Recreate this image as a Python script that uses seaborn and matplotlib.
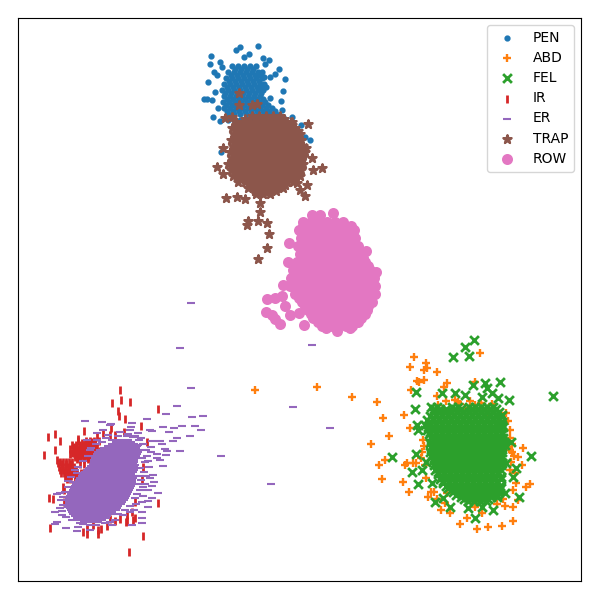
import matplotlib
matplotlib.use("Agg")
import matplotlib.pyplot as plt
import pandas as pd
import seaborn as sns

# all values (x, y in picture units)
labels = ["PEN", "ABD", "FEL", "IR", "ER", "TRAP", "ROW"]

pen_points = [(258,46),(240,47),(236,50),(211,56),(244,57),(249,54),(263,58),(269,60),(210,64),(220,62),(222,67),
    (265,64),(279,69),(285,79),(208,82),(214,72),(217,75),(275,74),(270,77),(264,77),(266,87),(283,91),(215,92),
    (204,99),(207,99),(212,100),(270,98),(281,101),(213,117),(218,108),(220,121),(282,110),(292,117),(283,117),
    (301,125),(305,137),(310,140),(221,152)]
pen_rows = {
    66: [232,238,244,250,256],
    69: [235,241,247,253],
    72: [228,234,240,246,252,258,262],
    75: [231,237,243,249,255,260],
    78: [226,232,238,244,250,256,262],
    81: [229,235,241,247,253,259],
    84: [224,230,236,242,248,254,260,264],
    87: [227,233,239,245,251,257,262],
    90: [222,228,234,240,246,252,258,263],
    93: [225,231,237,243,249,255,261],
    96: [224,230,236,242,248,254,260],
    99: [227,233,239,245,251,257,263],
    102: [223,229,235,241,247,253,259,265],
    105: [226,232,238,244,250,256,262,268],
    108: [224,230,236,242,248,254,260,266,272],
    111: [227,233,239,245,251,257,263,269,275],
    114: [228,234,240,246,252,258,264,270,276],
    120: [228,234,240,246,252,258,264,270,285],
}

abd_points = [(255,390),(317,387),(352,397),(377,402),(383,418),(404,415),(410,428),(389,436),(371,444),(385,460),
    (379,465),(382,479),(403,482),(409,492),(405,465),(407,463),(413,463),(414,357),(410,367),(426,363),(424,370),
    (427,368),(437,372),(417,381),(419,382),(424,380),(411,390),(447,383),(444,387),(475,382),(480,353),(437,396),
    (446,401),(458,402),(506,413),(523,448),(510,450),(518,457),(522,465),(515,473),(516,483),(530,484),(526,487),
    (513,490),(518,500),(513,507),(505,506),(513,521),(502,526),(488,527),(477,529),(460,524),(467,518),(482,513),
    (450,513),(441,510),(428,497),(431,492),(475,507),(447,493),(465,408),(475,405),(488,417),(450,417),(512,452),
    (514,456),(416,463),(421,458),(424,446),(460,404),(470,401),(481,403),(455,400),(438,405),(492,404),(508,421),
    (510,430),(512,444),(510,438),(423,440),(422,452),(425,465),(426,478),(434,492),(437,499),(445,503),(497,504),
    (503,499),(510,470),(511,462)]

fel_points = [(474,340),(465,347),(469,356),(453,357),(553,396),(500,382),(485,383),(473,385),(492,393),(487,388),
    (416,392),(442,393),(455,393),(465,395),(482,397),(509,400),(498,398),(415,409),(502,415),(417,425),(418,430),
    (503,427),(511,442),(531,456),(392,457),(416,454),(426,462),(412,472),(418,484),(422,470),(506,463),(516,468),
    (519,497),(493,510),(482,507),(475,518),(468,508),(450,507),(435,502),(443,498),(432,483),(513,477),(505,493)]
fel_rows = {
    407: [431,437,452,458,469,475,481,487,493],
    409: [434,440,446,455,461,472,478,484,490,496],
    412: [433,439,445,451,457,463,469,475,481,487,493,499],
    414: [436,442,448,454,460,466,472,478,484,490,496],
    416: [430,436,442,448,454,460,466,472,478,484,490,496,501],
    418: [433,439,445,451,457,463,469,475,481,487,493,499],
    420: [427,433,439,445,451,457,463,469,475,481,487,493,499],
    423: [430,436,442,448,454,460,466,472,478,484,490,496,501],
    425: [425,430,436,442,448,454,460,466,472,478,484,490,496,502],
    427: [428,433,439,445,451,457,463,469,475,481,487,493,499],
    430: [427,433,439,445,451,457,463,469,475,481,487,493,499],
    432: [430,436,442,448,454,460,466,472,478,484,490,496,502],
    434: [429,436,442,448,454,460,466,472,478,484,490,496,502],
    436: [432,439,445,451,457,463,469,475,481,487,493,499],
    438: [431,437,443,449,455,461,467,473,479,485,491,497,503],
    441: [434,440,446,452,458,464,470,476,482,488,494,500],
    443: [430,436,442,448,454,460,466,472,478,484,490,496,503],
    445: [433,439,445,451,457,463,469,475,481,487,493,499,505],
    447: [431,437,443,449,455,461,467,473,479,485,491,497,502],
    450: [434,440,446,452,458,464,470,476,482,488,494,500],
    452: [430,436,442,448,454,460,466,472,478,484,490,496,502],
    454: [433,439,445,451,457,463,469,475,481,487,493,499],
    456: [431,437,443,449,455,461,467,473,479,485,491,497,502],
    459: [434,440,446,452,458,464,470,476,482,488,494,500],
    461: [433,439,445,451,457,463,469,475,481,487,493,499],
    463: [436,442,448,454,460,466,472,478,484,490,496,502],
    465: [434,440,446,452,458,464,470,476,482,488,494,501],
    468: [437,443,449,455,461,467,473,479,485,491,497],
    470: [435,441,447,453,459,465,471,477,483,489,495,501],
    472: [438,444,450,456,462,468,474,480,486,492,498],
    474: [438,444,450,456,462,468,474,480,486,492,498],
    477: [441,447,453,459,465,471,477,483,489,495,501],
    479: [440,446,452,458,464,470,476,482,488,494,501],
    481: [443,449,455,461,467,473,479,485,491,497],
    483: [443,449,455,461,467,473,479,485,491,497],
    486: [446,452,458,464,470,476,482,488,494,500],
    488: [448,454,460,466,472,478,484,490,496,501],
    490: [451,457,463,469,475,481,487,493,499],
    492: [453,459,465,471,477,483,489,495,499],
    495: [456,462,468,474,480,486,492,497],
    497: [461,467,473,479,485,491,497],
    499: [464,470,476,482,488],
    501: [468,474,480,486],
}

ir_points = [(120,390),(121,400),(112,403),(130,402),(118,411),(119,416),(158,409),(125,419),(141,426),(84,431),
    (111,428),(48,437),(55,434),(60,441),(78,439),(55,450),(44,455),(70,454),(57,460),(58,463),(110,435),(115,435),
    (103,434),(124,432),(97,437),(92,442),(49,498),(53,499),(63,487),(64,502),(50,528),(143,536),(129,552),(158,503),
    (142,480),(143,467),(135,450),(147,442),(98,530),(101,529),(98,534),(87,534),(83,532),(87,528),(93,525),(107,526),
    (110,519),(126,522),(133,520),(135,518),(127,515),(135,502),(132,512),(64,490),(115,521),(120,519),(127,521)]
ir_rows = {
    441: [78,86,90,94,99],
    443: [82,85,88,92,95],
    445: [72,76,80,84,88,91,95],
    447: [74,77,80,83,86,89,93,97],
    449: [70,73,76,79,82,85,88,91,94],
    451: [74,77,79,82,85,88,92,96,100],
    453: [72,74,77,80,83,86,89,92,95],
    455: [75,78,80,83,86,90,94,99],
    457: [75,78,81,84,87,90],
    459: [77,80,84,88,93],
    462: [60,63,66,69,72],
    464: [62,66,70,80,84],
    467: [59,62,65,68,71,74],
    470: [60,63,66,69,72,76],
    473: [61,64,67,70,73,77,81],
    476: [65,68,71,75,80],
    479: [67,70,75,78],
}

er_points = [(191,303),(180,348),(312,345),(191,388),(293,407),(330,428),(271,484),(221,456),(177,406),(166,414),
    (192,417),(203,416),(85,421),(147,419),(102,422),(111,424),(132,423),(163,427),(174,428),(182,426),(195,426),
    (201,430),(152,431),(169,432),(131,427),(130,430),(103,430),(97,433),(138,433),(190,436),(177,438),(173,441),
    (160,441),(152,441),(162,444),(151,447),(165,449),(167,451),(180,451),(151,452),(157,454),(166,455),(157,458),
    (160,460),(148,461),(163,466),(149,467),(135,465),(153,475),(150,478),(154,482),(145,484),(143,487),(152,486),
    (148,490),(158,493),(152,498),(148,501),(142,502),(148,507),(142,512),(142,518),(142,523),(132,525),(130,512),
    (57,522),(55,524),(66,528),(77,531),(90,530),(85,520),(55,512),(62,511),(57,494),(60,493),(65,492),(68,487),
    (63,505),(68,507),(72,512),(87,440),(97,440),(90,450),(98,452),(93,465),(77,473),(75,470),(73,482),(78,527),
    (83,524),(105,523),(118,514),(110,425),(138,445),(150,430),(141,438),(135,436),(127,436),(118,436),(106,438),
    (112,440),(143,444),(146,450),(147,456),(142,458),(145,462),(140,468),(144,472),(146,476),(140,476),(141,480),
    (139,484),(140,490),(137,494),(143,496),(135,498),(136,504),(130,506),(134,510),(125,510),(123,515),(115,520),
    (110,522),(112,525),(96,525),(90,525),(80,523),(72,520),(66,517),(62,515),(60,508),(61,500),(63,497),(68,481),
    (71,477),(78,467),(83,461),(88,456),(91,448),(96,444),(102,442),(108,435),(120,432),(128,434),(139,440),(133,437)]
er_rows = {
    440: [120,128], 442: [116,124,131], 444: [112,120,128,134], 446: [108,116,124,132,137],
    448: [104,112,120,128,136], 450: [100,108,116,124,132,138], 452: [99,107,115,123,131,138],
    454: [97,105,113,121,129,137], 456: [96,104,112,120,128,136], 458: [95,103,111,119,127,135],
    460: [94,102,110,118,126,134], 462: [94,102,110,118,126,134], 464: [93,101,109,117,125,133],
    466: [91,99,107,115,123,131,134], 468: [89,97,105,113,121,129,134], 470: [87,95,103,111,119,127,134],
    472: [85,93,101,109,117,125,133], 474: [83,91,99,107,115,123,131], 476: [82,90,98,106,114,122,130,133],
    478: [80,88,96,104,112,120,128,133], 480: [79,87,95,103,111,119,127,132], 482: [77,85,93,101,109,117,125,132],
    484: [76,84,92,100,108,116,124,131], 486: [75,83,91,99,107,115,123,131], 488: [74,82,90,98,106,114,122,130],
    490: [73,81,89,97,105,113,121,129], 492: [72,80,88,96,104,112,120,128], 494: [71,79,87,95,103,111,119,127],
    496: [70,78,86,94,102,110,118,126], 498: [69,77,85,93,101,109,117,125], 500: [69,77,85,93,101,109,117,124],
    502: [69,77,85,93,101,109,117,122], 504: [69,77,85,93,101,109,117,121], 506: [70,78,86,94,102,110,118],
    508: [70,78,86,94,102,110,117], 510: [71,79,87,95,103,111,116], 512: [72,80,88,96,104,112],
    514: [73,81,89,97,105,111], 516: [75,83,91,99,107], 518: [77,85,93,101,106], 520: [80,88,96,102], 522: [84,92,98],
}

trap_points = [(239,93),(239,105),(252,105),(257,104),(232,117),(225,118),(308,124),(292,122),(223,148),(217,167),
    (223,174),(312,158),(306,148),(322,168),(313,170),(226,198),(237,197),(245,199),(305,196),(307,185),(297,183),
    (300,190),(260,203),(260,212),(248,221),(247,225),(258,221),(267,223),(269,234),(267,248),(258,259),(262,193)]
trap_rows = {
    116: [252,259,266,273,280],
    119: [245,256,263,270,277,284],
    122: [236,243,250,257,264,271,278,285,291],
    125: [236,243,250,257,264,271,278,285,292],
    128: [232,239,246,253,260,267,274,281,288,295],
    131: [236,243,250,257,264,271,278,285,292,298],
    134: [234,241,248,255,262,269,276,283,290,297,300],
    137: [235,242,249,256,263,270,277,284,291,298],
    140: [231,238,245,252,259,266,273,280,287,294,301],
    143: [235,242,249,256,263,270,277,284,291,298],
    146: [233,240,247,254,261,268,275,282,289,296,303],
    149: [234,241,248,255,262,269,276,283,290,297,303],
    152: [230,237,244,251,258,265,272,279,286,293,300,305],
    155: [234,241,248,255,262,269,276,283,290,297,303],
    158: [232,239,246,253,260,267,274,281,288,295,302],
    161: [232,239,246,253,260,267,274,281,288,295,301],
    164: [228,235,242,249,256,263,270,277,284,291,298,303],
    167: [232,239,246,253,260,267,274,281,288,295,300],
    170: [231,238,245,252,259,266,273,280,287,294,301],
    173: [235,242,249,256,263,270,277,284,291,297],
    176: [233,240,247,254,261,268,275,282,289,296,300],
    179: [240,247,254,261,268,275,282,289,295],
    182: [238,245,252,259,266,273,280,287,293],
    185: [250,257,264,271,278,285],
    188: [248,255,262,269,276,283],
    191: [255,262,269,276],
    194: [256,263,270],
}

row_points = [(333,213),(267,299),(275,298),(282,296),(266,312),(272,315),(275,319),(280,324),(290,315),(285,306),
    (299,313),(304,325),(366,251),(376,272),(289,243),(288,262),(283,285),(337,331),(326,328),(350,328),(317,319)]
row_rows = {
    215: [312,320],
    222: [303,311,319,327,335,343],
    226: [303,311,319,327,335,343,351],
    230: [299,307,315,323,331,339,347,354],
    234: [303,311,319,327,335,343,351],
    238: [301,309,317,325,333,341,349,355],
    242: [302,310,318,326,334,342,350],
    246: [298,306,314,322,330,338,346,354,358],
    250: [302,310,318,326,334,342,350,358],
    254: [300,308,316,324,332,340,348,356,361],
    258: [301,309,317,325,333,341,349,357,363],
    262: [297,305,313,321,329,337,345,353,361,365],
    266: [298,306,314,322,330,338,346,354,362,368],
    270: [293,301,309,317,325,333,341,349,357,365,370],
    274: [296,304,312,320,328,336,344,352,360,368],
    278: [291,299,307,315,323,331,339,347,355,363,371,374],
    282: [295,303,311,319,327,335,343,351,359,367],
    286: [290,298,306,314,322,330,338,346,354,362,370,375],
    290: [296,304,312,320,328,336,344,352,360,368,373],
    294: [295,303,311,319,327,335,343,351,359,367,375],
    298: [299,307,315,323,331,339,347,355,363,371],
    302: [302,310,318,326,334,342,350,358,366,372],
    306: [305,313,321,329,337,345,353,361,368],
    310: [308,316,324,332,340,348,356,364,367],
    314: [311,319,327,335,343,351,359,365],
    318: [313,321,329,337,345,353,361],
    322: [318,326,334,342,350,358],
    326: [322,330,338,346,352],
}


def montar_frame(points, rows):
    # junta os pontos soltos com as linhas do miolo denso
    xs = [p[0] for p in points]
    ys = [p[1] for p in points]
    for y, row in rows.items():
        xs += row
        ys += [y] * len(row)
    return pd.DataFrame({"x": xs, "y": ys})


series = [
    (pen_points, pen_rows, ".", "C0", True, 36, 1.5),
    (abd_points, {}, "+", "C1", False, 40, 1.7),
    (fel_points, fel_rows, "x", "C2", False, 40, 2),
    (ir_points, ir_rows, "|", "C3", False, 40, 2),
    (er_points, er_rows, "_", "C4", False, 36, 1.5),
    (trap_points, trap_rows, "*", "C5", True, 40, 1.6),
    (row_points, row_rows, "o", "C6", True, 40, 1.6),
]

fig = plt.figure(figsize=(6, 6), dpi=100)
ax = fig.add_axes([0.03, 0.0317, 0.9383, 0.9383])

for name, (points, rows, marker, color, filled, size, lw) in zip(labels, series):
    df = montar_frame(points, rows)
    kws = {"edgecolor": color} if filled else {}
    sns.scatterplot(data=df, x="x", y="y", marker=marker, color=color, s=size, linewidth=lw,
                    label=name, ax=ax, **kws)

ax.set_xlim(18, 581)
ax.set_ylim(581, 18)
ax.set_xticks([])
ax.set_yticks([])
ax.set_xlabel("")
ax.set_ylabel("")
ax.legend(loc="upper right", labelspacing=0.45, handlelength=2.08)

plt.savefig("out.png", dpi=100)
plt.close()
